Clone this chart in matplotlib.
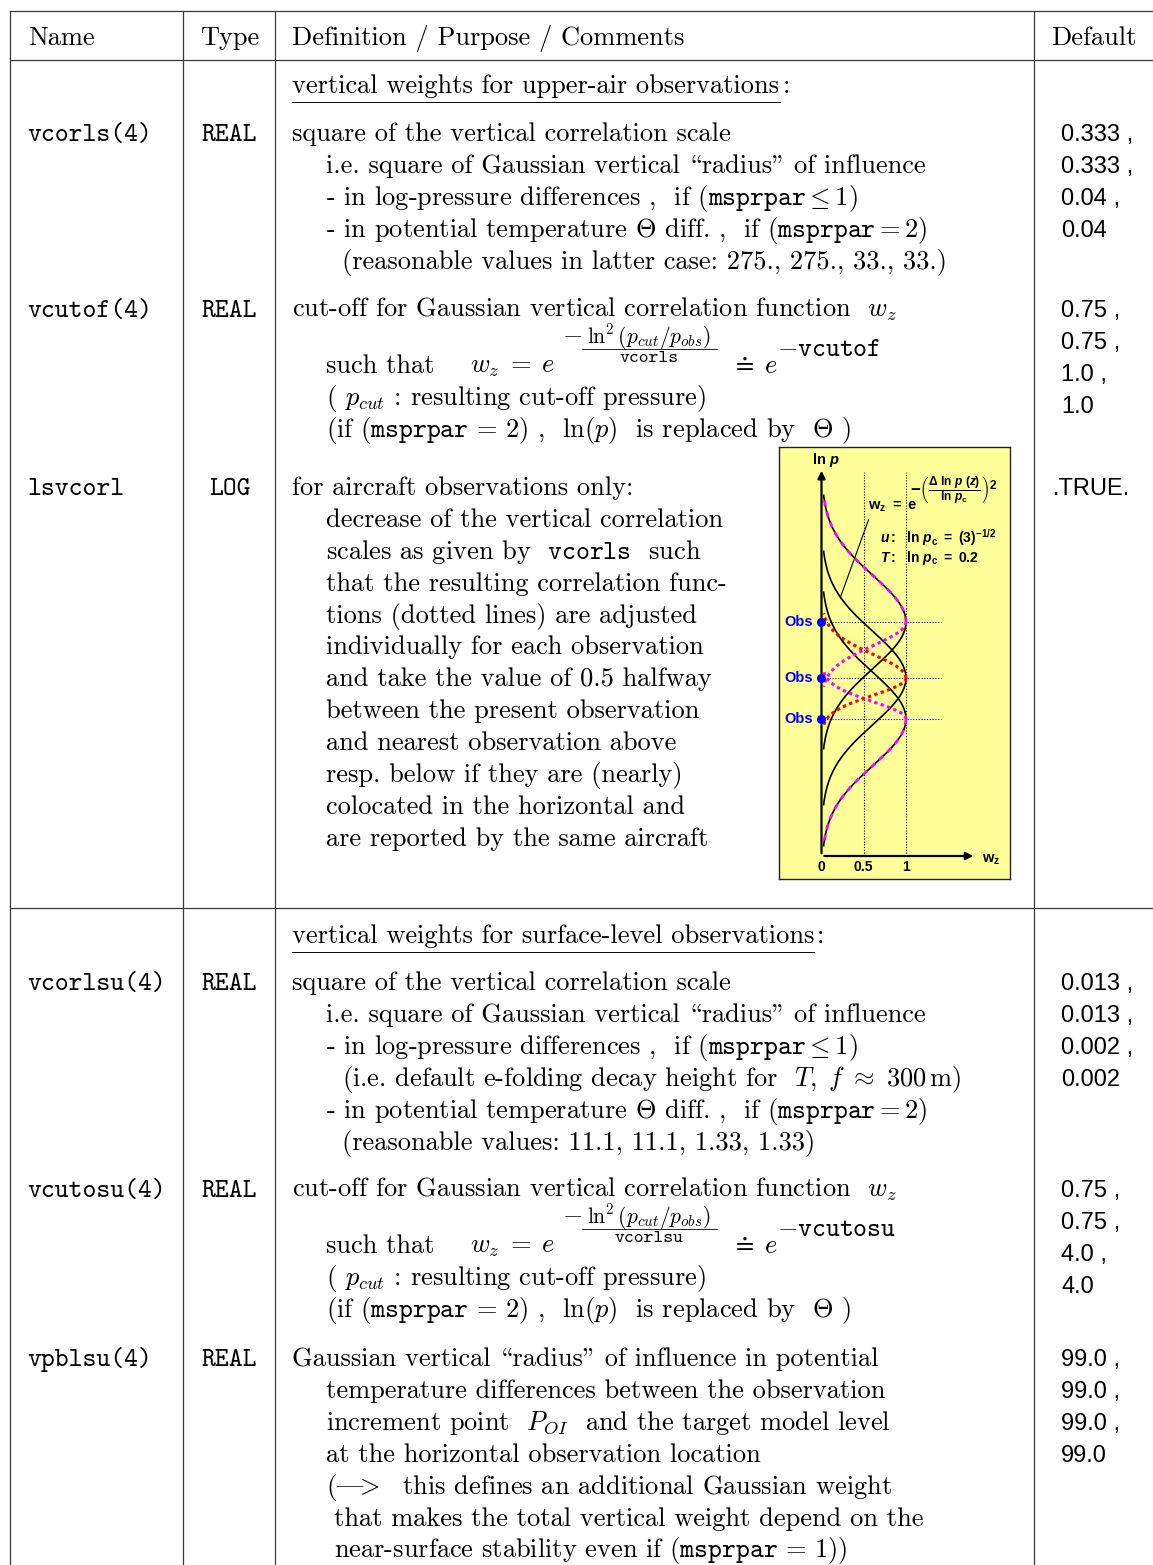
import numpy as np
import matplotlib
matplotlib.use("Agg")
import matplotlib.pyplot as plt

plt.rcParams["mathtext.fontset"] = "cm"
plt.rcParams["mathtext.rm"] = "Liberation Sans:bold"
plt.rcParams["mathtext.it"] = "Liberation Sans:italic:bold"
plt.rcParams["mathtext.bf"] = "Liberation Sans:bold"
plt.rcParams["axes.unicode_minus"] = False

RM = "cmr10"
TT = "cmtt10"
SF = "Liberation Sans"
FS = 19.0
FS_DEF = 17.0
PITCH = 31.9

# ---------------- table content ----------------
headers = ["Name", "Type", "Definition / Purpose / Comments", "Default"]

section_titles = ["vertical weights for upper-air observations",
                  "vertical weights for surface-level observations"]

names = ["vcorls(4)", "vcutof(4)", "lsvcorl", "vcorlsu(4)", "vcutosu(4)", "vpblsu(4)"]
types = ["REAL", "REAL", "LOG", "REAL", "REAL", "REAL"]
defaults = [
    ["0.333 ,", "0.333 ,", "0.04 ,", "0.04"],
    ["0.75 ,", "0.75 ,", "1.0 ,", "1.0"],
    [".TRUE."],
    ["0.013 ,", "0.013 ,", "0.002 ,", "0.002"],
    ["0.75 ,", "0.75 ,", "4.0 ,", "4.0"],
    ["99.0 ,", "99.0 ,", "99.0 ,", "99.0"],
]

# cmr10 is TeX-encoded: "\" gives an opening and '"' a closing double quote, "|" an em dash
descriptions = [
    [(0, "square of the vertical correlation scale"),
     (1, "i.e. square of Gaussian vertical \\radius\" of influence"),
     (1, r"- in log-pressure differences ,  if ($\mathtt{msprpar}\leq 1$)"),
     (1, r"- in potential temperature $\Theta$ diff. ,  if ($\mathtt{msprpar}=2$)"),
     (2, "(reasonable values in latter case: 275., 275., 33., 33.)")],
    [(0, r"cut-off for Gaussian vertical correlation function  $w_z$"),
     ("formula", ("vcorls", "vcutof")),
     (1, r"( $p_{cut}$ : resulting cut-off pressure)"),
     (1, r"(if ($\mathtt{msprpar}\,=\,2$) ,  $\ln(p)$  is replaced by  $\Theta$ )")],
    [(0, "for aircraft observations only:"),
     (1, "decrease of the vertical correlation"),
     (1, r"scales as given by  $\mathtt{vcorls}$  such"),
     (1, "that the resulting correlation func-"),
     (1, "tions (dotted lines) are adjusted"),
     (1, "individually for each observation"),
     (1, "and take the value of 0.5 halfway"),
     (1, "between the present observation"),
     (1, "and nearest observation above"),
     (1, "resp. below if they are (nearly)"),
     (1, "colocated in the horizontal and"),
     (1, "are reported by the same aircraft")],
    [(0, "square of the vertical correlation scale"),
     (1, "i.e. square of Gaussian vertical \\radius\" of influence"),
     (1, r"- in log-pressure differences ,  if ($\mathtt{msprpar}\leq 1$)"),
     (2, r"(i.e. default e-folding decay height for  $T,\; f\ \approx\ 300\,\mathrm{m}$)"),
     (1, r"- in potential temperature $\Theta$ diff. ,  if ($\mathtt{msprpar}=2$)"),
     (2, "(reasonable values: 11.1, 11.1, 1.33, 1.33)")],
    [(0, r"cut-off for Gaussian vertical correlation function  $w_z$"),
     ("formula", ("vcorlsu", "vcutosu")),
     (1, r"( $p_{cut}$ : resulting cut-off pressure)"),
     (1, r"(if ($\mathtt{msprpar}\,=\,2$) ,  $\ln(p)$  is replaced by  $\Theta$ )")],
    [(0, "Gaussian vertical \\radius\" of influence in potential"),
     (1, "temperature differences between the observation"),
     (1, r"increment point  $P_{OI}$  and the target model level"),
     (1, "at the horizontal observation location"),
     (1, r"(|$\!\!>$  this defines an additional Gaussian weight"),
     (3, "that makes the total vertical weight depend on the"),
     (3, r"near-surface stability even if ($\mathtt{msprpar}\,=\,1$))")],
]

# inset sketch: observation levels (ln p) and correlation scale
obs_lnp = [2.34, 1.78, 1.37]
lnp_c = 0.66
cut_ratio = 1.92

# ---------------- layout ----------------
col_lines = [10, 183, 275, 1034]
header_x = [28, 229.5, 292, 1051]
title_base = [93, 943]
title_underline_end = [780, 814]
row_base = [141, 317, 495, 990, 1197, 1366]
indent_x = {0: 292, 1: 326, 2: 342, 3: 334}
name_x, type_x, def_x = 27, 229.5, 1061

fig = plt.figure(figsize=(11.53, 15.65), dpi=100)
ax = fig.add_axes([0, 0, 1, 1])
ax.set_xlim(0, 1153)
ax.set_ylim(1565, 0)
ax.axis("off")

rule = dict(color="#3a3a3a", lw=0.9)
ax.plot([10, 1153], [11, 11], **rule)
ax.plot([10, 1153], [60, 60], **rule)
ax.plot([10, 1153], [908, 908], **rule)
for x in col_lines:
    ax.plot([x, x], [11, 1565], **rule)

for lab, x in zip(headers, header_x):
    ax.text(x, 45, lab, family=RM, fontsize=FS, va="baseline",
            ha="center" if lab == "Type" else "left")

for t, yb, xe in zip(section_titles, title_base, title_underline_end):
    ax.text(292, yb, t, family=RM, fontsize=FS, va="baseline")
    ax.text(xe + 3, yb, ":", family=RM, fontsize=FS, va="baseline")
    ax.plot([292, xe], [yb + 9, yb + 9], color="k", lw=0.7)


def draw_formula(y, denom, rhs):
    ax.text(326, y, "such that", family=RM, fontsize=FS, va="baseline")
    ax.text(470, y, r"$w_z\;=\;e$", family=RM, fontsize=FS, va="baseline")
    ax.text(562, y - 32, r"$-$", family=RM, fontsize=FS, va="baseline")
    ax.text(649, y - 30, r"$\ln^2(p_{cut}/p_{obs})$", family=RM, fontsize=15.5,
            va="baseline", ha="center")
    ax.plot([582, 717], [y - 24, y - 24], color="k", lw=0.6)
    ax.text(649, y - 11, denom, family=TT, fontsize=13.5, va="baseline", ha="center")
    ax.text(731, y, r"$\doteq\;e$", family=RM, fontsize=FS, va="baseline")
    ax.text(777, y - 17, r"$-$" + rhs, family=TT, fontsize=FS, va="baseline")


for i, (nm, tp) in enumerate(zip(names, types)):
    y0 = row_base[i]
    ax.text(name_x, y0, nm, family=TT, fontsize=FS, va="baseline")
    ax.text(type_x, y0, tp, family=TT, fontsize=FS, va="baseline", ha="center")
    for k, dv in enumerate(defaults[i]):
        dx = 1053 if dv.startswith(".") else def_x
        ax.text(dx, y0 + k * PITCH, dv, family=SF, fontsize=FS_DEF, va="baseline")
    y = y0
    prev = None
    for j, (ind, txt) in enumerate(descriptions[i]):
        if j > 0:
            if ind == "formula":
                y += 56
            elif prev == "formula":
                y += 32
            else:
                y += PITCH
        if ind == "formula":
            draw_formula(y, *txt)
        else:
            ax.text(indent_x[ind], y, txt, family=RM, fontsize=FS, va="baseline")
        prev = ind

# ---------------- inset sketch ----------------
bx0, bx1, by0, by1 = 779, 1010, 447, 879
ins = fig.add_axes([bx0 / 1153, 1 - by1 / 1565, (bx1 - bx0) / 1153, (by1 - by0) / 1565])
ins.set_facecolor("#ffff99")
ins.set_xlim(-0.503, 2.231)
ins.set_ylim(-0.23, 4.09)
ins.set_xticks([])
ins.set_yticks([])
for s in ins.spines.values():
    s.set_linewidth(1.0)
    s.set_color("#222222")


def branch(center, scale, side):
    d = np.linspace(0, cut_ratio * scale, 200)
    return np.exp(-(d / scale) ** 2), center + side * d


dots = (0, (1.1, 1.1))
for c in obs_lnp:
    for side in (1, -1):
        w, z = branch(c, lnp_c, side)
        ins.plot(w, z, color="k", lw=1.2, zorder=3)

# outer sides stay unchanged
w, z = branch(obs_lnp[0], lnp_c, 1)
ins.plot(w, z, color="#ff00ff", lw=2.0, ls=(0, (2, 2)), zorder=4)
w, z = branch(obs_lnp[2], lnp_c, -1)
ins.plot(w, z, color="#ff00ff", lw=2.0, ls=(0, (2, 2)), zorder=4)

# adjusted sides: 0.5 halfway to the neighbour
half_up = (obs_lnp[0] - obs_lnp[1]) / 2 / np.sqrt(np.log(2))
half_lo = (obs_lnp[1] - obs_lnp[2]) / 2 / np.sqrt(np.log(2))
w, z = branch(obs_lnp[0], half_up, -1)
ins.plot(w, z, color="#ff00ff", lw=2.2, ls=dots, zorder=4)
w, z = branch(obs_lnp[2], half_lo, 1)
ins.plot(w, z, color="#ff00ff", lw=2.2, ls=dots, zorder=4)
w, z = branch(obs_lnp[1], half_up, 1)
ins.plot(w, z, color="red", lw=2.2, ls=dots, zorder=4)
w, z = branch(obs_lnp[1], half_lo, -1)
ins.plot(w, z, color="red", lw=2.2, ls=dots, zorder=4)

for xv in (0.5, 1.0):
    ins.plot([xv, xv], [0, 3.84], color="k", lw=0.8, ls=(0, (1, 1.5)), zorder=2)
for c in obs_lnp:
    ins.plot([0, 1.41], [c, c], color="#0000ff", lw=0.8, ls=(0, (1, 1.5)), zorder=2)
    ins.plot(0, c, "o", color="#0000ff", ms=5.5, zorder=6)
    ins.text(-0.10, c, "Obs", family=SF, weight="bold", fontsize=10.5, color="#0000ff",
             ha="right", va="center")

ins.annotate("", xy=(0, 3.88), xytext=(0, 0),
             arrowprops=dict(arrowstyle="-|>", lw=1.6, color="k", mutation_scale=11), zorder=5)
ins.annotate("", xy=(1.83, 0), xytext=(0, 0),
             arrowprops=dict(arrowstyle="-|>", lw=1.6, color="k", mutation_scale=11), zorder=5)

for xv, lab in zip((0, 0.5, 1.0), ("0", "0.5", "1")):
    ins.text(xv, -0.11, lab, family=SF, weight="bold", fontsize=10, ha="center", va="center")

mf = "custom"
ins.text(0.05, 3.96, r"$\mathrm{ln}\ p$", family=SF, weight="bold", fontsize=10.5,
         ha="center", va="center", math_fontfamily=mf)
ins.text(1.90, -0.04, r"$\mathrm{w}_\mathrm{z}$", family=SF, weight="bold", fontsize=10.5,
         ha="left", va="center", math_fontfamily=mf)
ins.text(0.55, 3.46, r"$\mathrm{w}_\mathrm{z}\ \mathrm{=}\ \mathrm{e}$", family=SF, weight="bold",
         fontsize=10.5, va="baseline", math_fontfamily=mf)
ins.text(1.05, 3.65, r"$-\left(\frac{\Delta\ \mathrm{ln}\ p\ \mathrm{(}z\mathrm{)}}{\mathrm{ln}\ p_\mathrm{c}}\right)^\mathrm{2}$",
         family=SF, weight="bold", fontsize=12.2, va="center", math_fontfamily=mf)
ins.text(0.69, 3.13, r"$u\mathrm{:}\ \ \mathrm{ln}\ p_\mathrm{c}\ \mathrm{=}\ \mathrm{(3)}^{\mathrm{-1/2}}$",
         family=SF, weight="bold", fontsize=10, va="baseline", math_fontfamily=mf)
ins.text(0.69, 2.94, r"$T\mathrm{:}\ \ \mathrm{ln}\ p_\mathrm{c}\ \mathrm{=}\ \mathrm{0.2}$",
         family=SF, weight="bold", fontsize=10, va="baseline", math_fontfamily=mf)
ins.plot([0.556, 0.225], [3.36, 2.59], color="k", lw=0.8, zorder=3)

fig.savefig("out.png", dpi=100)
